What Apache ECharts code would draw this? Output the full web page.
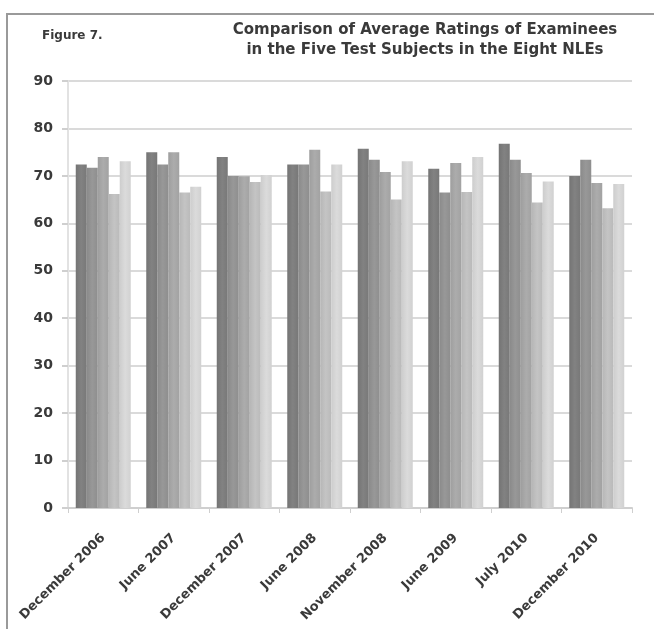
<!DOCTYPE html>
<html>
<head>
<meta charset="utf-8">
<style>
  html, body { margin: 0; padding: 0; background: #fff; }
  #chart { width: 654px; height: 629px; }
</style>
<script src="https://cdn.jsdelivr.net/npm/echarts@6/dist/echarts.min.js"></script>
</head>
<body>
<div id="chart"></div>
<script>
// Examination periods (x-axis categories)
const categories = [
  'December 2006', 'June 2007', 'December 2007', 'June 2008',
  'November 2008', 'June 2009', 'July 2010', 'December 2010'
];

// Average ratings for each of the five test subjects
const subject1 = [72.4, 75.0, 74.0, 72.4, 75.7, 71.5, 76.8, 70.0];
const subject2 = [71.7, 72.4, 70.0, 72.4, 73.4, 66.5, 73.4, 73.4];
const subject3 = [74.0, 75.0, 69.9, 75.5, 70.8, 72.7, 70.6, 68.5];
const subject4 = [66.2, 66.5, 68.7, 66.7, 65.0, 66.6, 64.4, 63.2];
const subject5 = [73.1, 67.7, 70.2, 72.4, 73.1, 74.0, 68.8, 68.3];

const yTicks = [0, 10, 20, 30, 40, 50, 60, 70, 80, 90];

const seriesData = [subject1, subject2, subject3, subject4, subject5];
const barColors = ['#7c7c7c', '#929292', '#a6a6a6', '#bebebe', '#d5d5d5'];

function shade(hex, amt) {
  const n = parseInt(hex.slice(1), 16);
  const c = [(n >> 16) & 255, (n >> 8) & 255, n & 255].map(v => Math.max(0, Math.min(255, v + amt)));
  return 'rgb(' + c.join(',') + ')';
}

const FONT = 'DejaVu Sans, Liberation Sans, sans-serif';
const chart = echarts.init(document.getElementById('chart'), null, { renderer: 'canvas' });

chart.setOption({
  animation: false,
  backgroundColor: '#ffffff',
  textStyle: { fontFamily: FONT },
  title: [
    {
      text: 'Comparison of Average Ratings of Examinees\nin the Five Test Subjects in the Eight NLEs',
      left: 420, top: 15, textAlign: 'center',
      textStyle: { fontFamily: FONT, fontSize: 15, fontWeight: 'bold', color: '#3a3a3a', lineHeight: 20 }
    },
    {
      text: 'Figure 7.',
      left: 37, top: 25,
      textStyle: { fontFamily: FONT, fontSize: 12, fontWeight: 'bold', color: '#3a3a3a' }
    }
  ],
  graphic: [
    {
      type: 'polyline',
      shape: { points: [[7, 629], [7, 14], [654, 14]] },
      style: { stroke: '#9a9a9a', lineWidth: 2, fill: null }
    }
  ],
  grid: { left: 68, right: 22, top: 81, bottom: 121 },
  xAxis: {
    type: 'category',
    data: categories,
    axisLine: { lineStyle: { color: '#cfcfcf', width: 2 } },
    axisTick: { show: true, length: 5, lineStyle: { color: '#cfcfcf', width: 1 } },
    axisLabel: {
      rotate: 45, interval: 0, margin: 28,
      fontFamily: FONT, fontSize: 13, color: '#3a3a3a', fontWeight: 'bold'
    }
  },
  yAxis: {
    type: 'value',
    min: yTicks[0], max: yTicks[yTicks.length - 1], interval: 10,
    axisLine: { show: true, lineStyle: { color: '#e2e2e2', width: 2 } },
    axisTick: { show: true, length: 6, lineStyle: { color: '#cfcfcf', width: 2 } },
    axisLabel: { fontFamily: FONT, fontSize: 14, color: '#3a3a3a', margin: 15, fontWeight: 'bold' },
    splitLine: { lineStyle: { color: '#dadada', width: 2 } }
  },
  series: seriesData.map((d, i) => ({
    type: 'bar',
    data: d,
    barGap: '0%',
    barCategoryGap: '22%',
    itemStyle: {
      color: new echarts.graphic.LinearGradient(0, 0, 1, 0, [
        { offset: 0, color: shade(barColors[i], -8) },
        { offset: 0.5, color: shade(barColors[i], 6) },
        { offset: 1, color: shade(barColors[i], -4) }
      ])
    }
  }))
});
</script>
</body>
</html>
